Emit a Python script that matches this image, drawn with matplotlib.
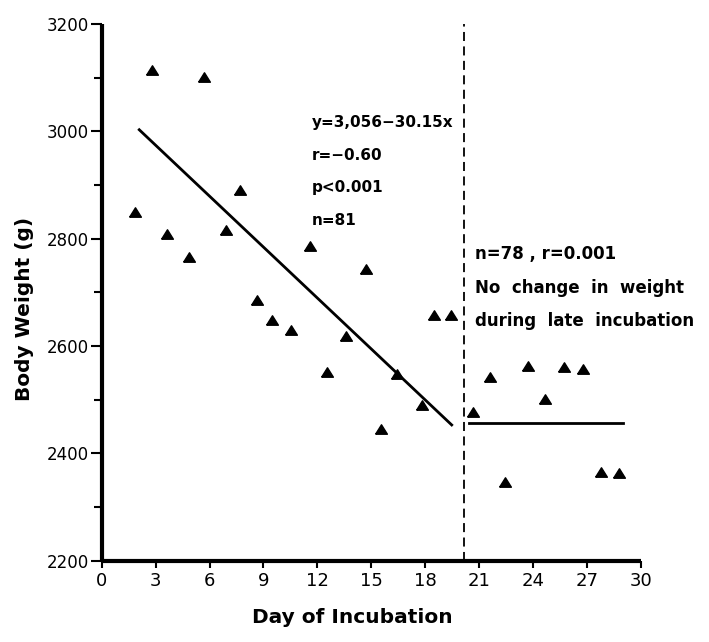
import matplotlib
matplotlib.use('Agg')
import matplotlib.pyplot as plt
from matplotlib.ticker import MultipleLocator

# ---- data ----
early_day = [1.85, 2.78, 3.65, 4.85, 5.68, 6.94, 7.68, 8.62, 9.49, 10.55,
             11.58, 12.51, 13.57, 14.70, 15.54, 16.44, 17.80, 18.49, 19.41]
early_weight = [2850, 3114, 2808, 2766, 3101, 2816, 2890, 2685, 2649, 2629,
                2786, 2551, 2618, 2744, 2445, 2548, 2491, 2657, 2657]
late_day = [20.67, 21.60, 22.43, 23.69, 24.66, 25.71, 26.79, 27.77, 28.79]
late_weight = [2478, 2543, 2347, 2562, 2502, 2561, 2557, 2365, 2363]

fit_early_day = [2.09, 19.47]
fit_early_weight = [3003, 2453]
fit_late_day = [20.45, 29.0]
fit_late_weight = [2457, 2457]
boundary_day = 20.15

x_ticks = list(range(0, 31, 3))
y_ticks = [2200, 2400, 2600, 2800, 3000, 3200]

stats_early = ["y=3,056\u221230.15x", "r=\u22120.60", "p<0.001", "n=81"]
stats_early_y = [3017, 2955, 2896, 2834]
stats_late = ["n=78 , r=0.001", "No  change  in  weight", "during  late  incubation"]
stats_late_y = [2771, 2709, 2646]

# ---- figure ----
fig = plt.figure(figsize=(7.09, 6.42), dpi=100)
ax = fig.add_axes([0.1434, 0.1266, 0.7607, 0.836])

tri = [(-1, -0.8), (1, -0.8), (0, 0.8), (-1, -0.8)]
ax.plot(early_day, early_weight, linestyle='none', marker=tri, ms=8.5,
        color='black', clip_on=False)
ax.plot(late_day, late_weight, linestyle='none', marker=tri, ms=8.5,
        color='black', clip_on=False)
ax.plot(fit_early_day, fit_early_weight, color='black', lw=2.0)
ax.plot(fit_late_day, fit_late_weight, color='black', lw=2.0)
ax.axvline(boundary_day, color='black', lw=1.3, linestyle=(0, (5, 3)))

for t, y in zip(stats_early, stats_early_y):
    ax.text(11.68, y, t, fontsize=11, fontweight='bold', ha='left', va='center')
for t, y in zip(stats_late, stats_late_y):
    ax.text(20.77, y, t, fontsize=12, fontweight='bold', ha='left', va='center')

ax.set_xlim(0, 30)
ax.set_ylim(2200, 3200)
ax.set_xticks(x_ticks)
ax.set_yticks(y_ticks)
ax.yaxis.set_minor_locator(MultipleLocator(100))

for s in ['top', 'right']:
    ax.spines[s].set_visible(False)
for s in ['left', 'bottom']:
    ax.spines[s].set_linewidth(3)
    ax.spines[s].set_capstyle('butt')

ax.tick_params(axis='y', which='major', direction='out', length=8, width=1.5,
               pad=1, labelsize=12)
ax.tick_params(axis='y', which='minor', direction='out', length=6, width=1.5)
ax.tick_params(axis='x', which='major', direction='out', length=5, width=1.5,
               pad=3, labelsize=13)

ax.set_xlabel('Day of Incubation', fontsize=14.5, fontweight='bold')
ax.xaxis.set_label_coords(0.464, -0.088)
ax.set_ylabel('Body Weight (g)', fontsize=14.5, fontweight='bold')
ax.yaxis.set_label_coords(-0.125, 0.47)

fig.savefig('out.png', dpi=100)
